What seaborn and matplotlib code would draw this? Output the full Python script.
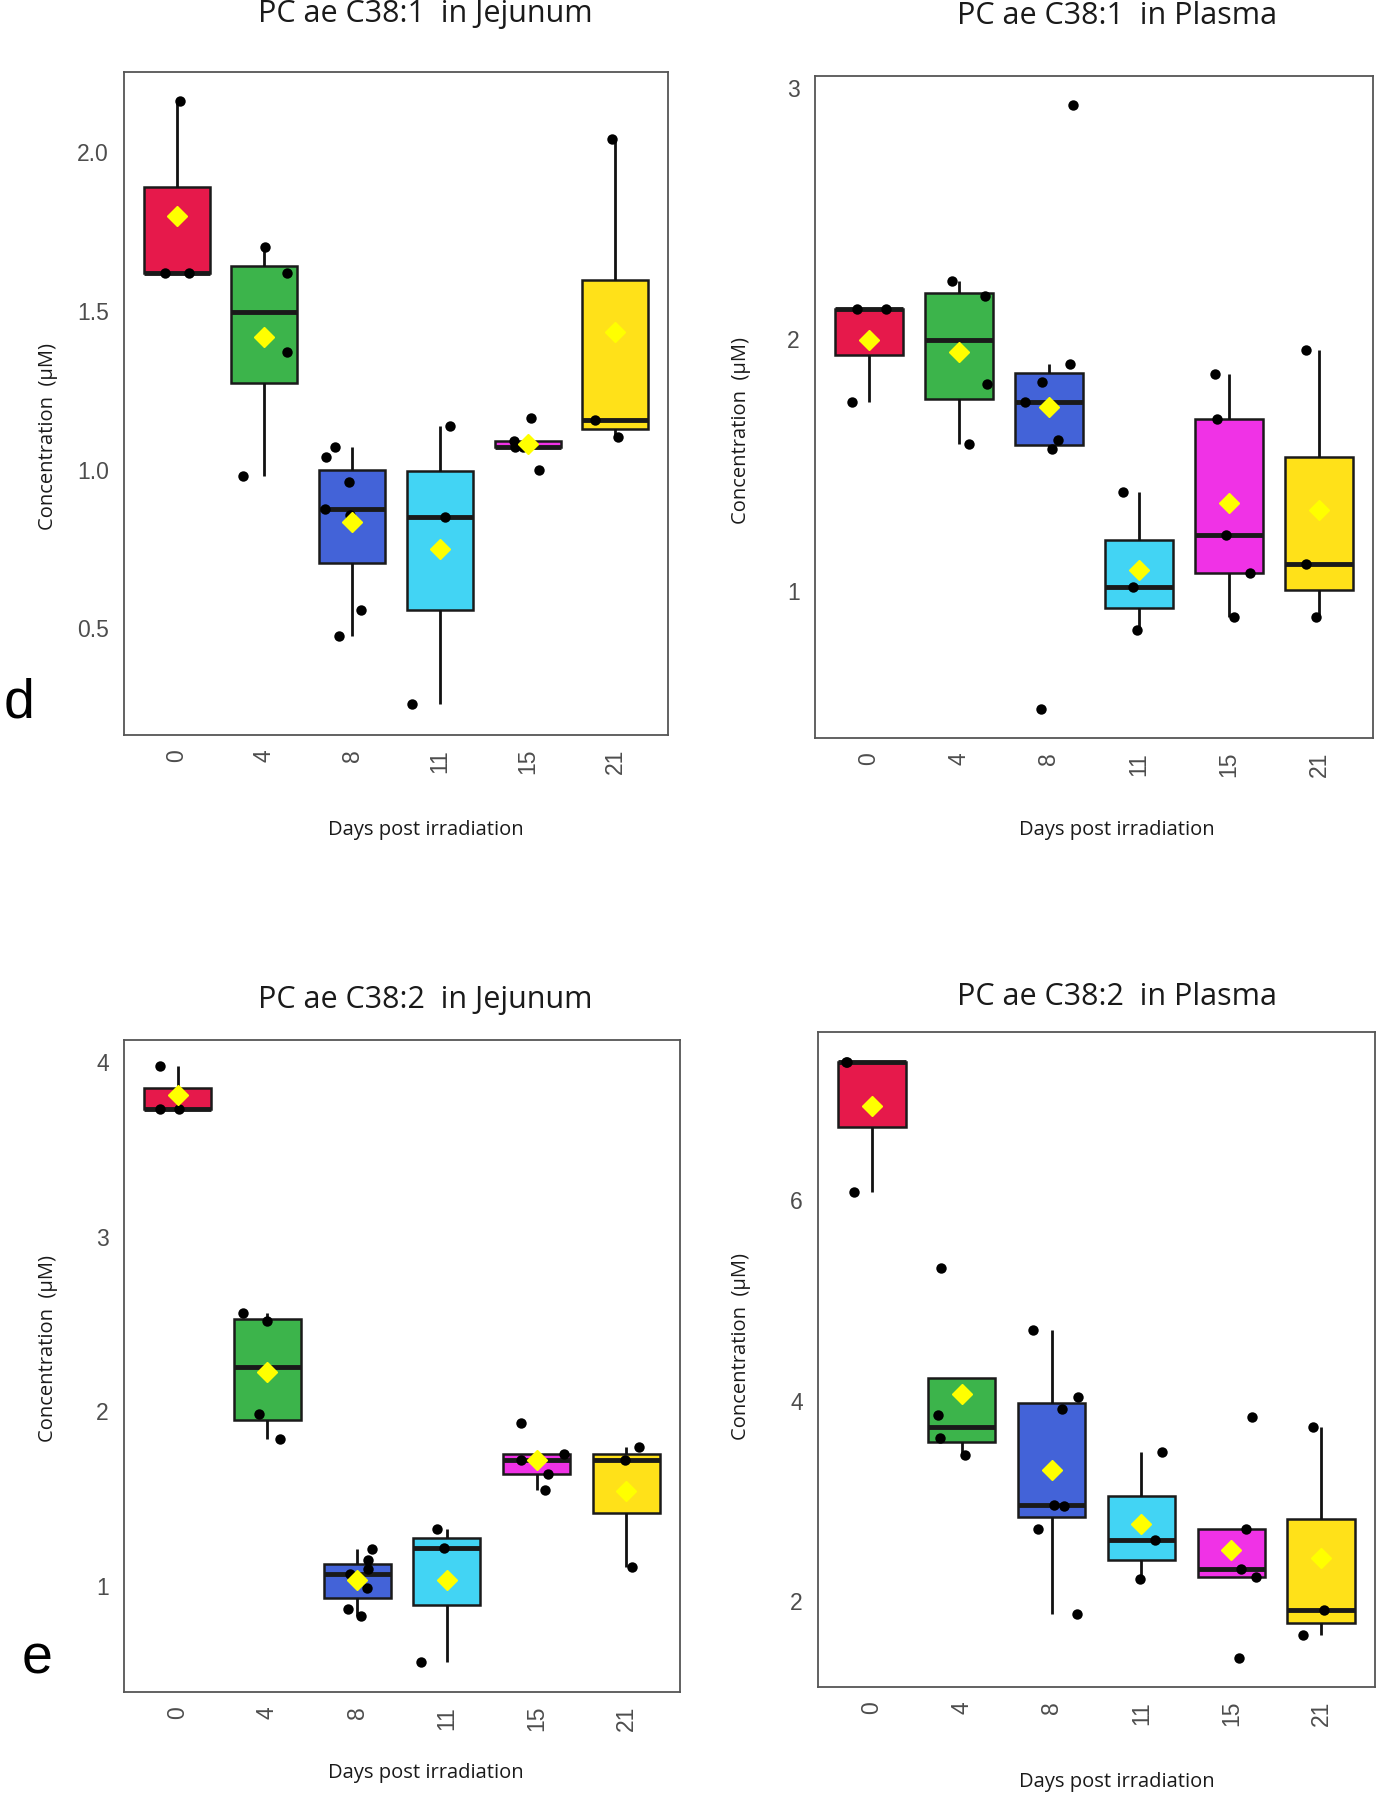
import numpy as np
import pandas as pd
import matplotlib
matplotlib.use("Agg")
import matplotlib.pyplot as plt
import seaborn as sns

# Days post irradiation (x categories) and group colours
days = ["0", "4", "8", "11", "15", "21"]
day_colors = ["#e6194B", "#3cb44b", "#4363d8", "#42d4f4", "#f032e6", "#ffe119"]

# PC ae C38:1 in Jejunum (uM), one list per day
jej_c381 = [
    [2.16, 1.62, 1.62],
    [1.70, 1.62, 1.37, 0.98],
    [1.07, 1.04, 0.96, 0.877, 0.857, 0.557, 0.477],
    [1.138, 0.852, 0.261],
    [1.162, 1.09, 1.072, 1.072, 1.00],
    [2.04, 1.155, 1.102],
]

# PC ae C38:1 in Plasma
pla_c381 = [
    [2.121, 2.121, 1.752],
    [2.231, 2.170, 1.821, 1.582],
    [2.931, 1.901, 1.830, 1.752, 1.599, 1.562, 0.530],
    [1.392, 1.015, 0.845],
    [1.862, 1.683, 1.222, 1.071, 0.897],
    [1.959, 1.108, 0.897],
]

# PC ae C38:2 in Jejunum
jej_c382 = [
    [3.975, 3.729, 3.729],
    [2.563, 2.517, 1.985, 1.840],
    [1.21, 1.15, 1.10, 1.07, 0.99, 0.87, 0.83],
    [1.325, 1.22, 0.563],
    [1.935, 1.757, 1.723, 1.640, 1.551],
    [1.794, 1.723, 1.108],
]

# PC ae C38:2 in Plasma
pla_c382 = [
    [7.379, 7.379, 6.085],
    [5.324, 3.854, 3.625, 3.459],
    [4.70, 4.035, 3.912, 2.959, 2.948, 2.719, 1.867],
    [3.486, 2.602, 2.213],
    [3.832, 2.714, 2.320, 2.240, 1.425],
    [3.731, 1.904, 1.654],
]

titles = ["PC ae C38:1  in Jejunum", "PC ae C38:1  in Plasma",
          "PC ae C38:2  in Jejunum", "PC ae C38:2  in Plasma"]
yticks = [[0.5, 1.0, 1.5, 2.0], [1, 2, 3], [1, 2, 3, 4], [2, 4, 6]]
ytick_labels = [["0.5", "1.0", "1.5", "2.0"], ["1", "2", "3"],
                ["1", "2", "3", "4"], ["2", "4", "6"]]

W, H = 1384, 1800
sns.set_style("white")
plt.rcParams["font.family"] = ["Liberation Sans", "DejaVu Sans"]


def to_frame(groups):
    rows = []
    for d, vals in zip(days, groups):
        for v in vals:
            rows.append({"day": d, "conc": v})
    return pd.DataFrame(rows)


def fx(px):
    return px / W


def fy(py):
    return 1 - py / H


# panel layout in pixels: axes box (left, top, right, bottom), title, labels
panels = [
    dict(data=jej_c381, box=(124, 72, 668, 735), ylim=(0.164, 2.252),
         title=(425, 14), xlab=(426, 830), ylab=(48, 436)),
    dict(data=pla_c381, box=(815, 76, 1373, 738), ylim=(0.414, 3.047),
         title=(1117, 16), xlab=(1117, 830), ylab=(741, 430)),
    dict(data=jej_c382, box=(124, 1040, 680, 1692), ylim=(0.393, 4.126),
         title=(425, 1000), xlab=(426, 1773), ylab=(48, 1348)),
    dict(data=pla_c382, box=(818, 1032, 1375, 1687), ylim=(1.137, 7.683),
         title=(1117, 997), xlab=(1117, 1782), ylab=(741, 1346)),
]

fig = plt.figure(figsize=(W / 100, H / 100), dpi=100)
np.random.seed(3)

for i, p in enumerate(panels):
    l, t, r, b = p["box"]
    ax = fig.add_axes([fx(l), fy(b), (r - l) / W, (b - t) / H])
    df = to_frame(p["data"])

    sns.boxplot(data=df, x="day", y="conc", hue="day", order=days, hue_order=days,
                palette=day_colors, saturation=1, legend=False, width=0.75,
                showfliers=False, showmeans=True, showcaps=False,
                linecolor="#1a1a1a", linewidth=1.8,
                medianprops=dict(linewidth=3.5, color="#1a1a1a"),
                whiskerprops=dict(linewidth=2, color="#111111"),
                meanprops=dict(marker="D", markerfacecolor="#ffff00",
                               markeredgecolor="#ffff00", markersize=10,
                               zorder=5),
                ax=ax)
    sns.stripplot(data=df, x="day", y="conc", order=days, color="black",
                  size=7.5, jitter=0.33, ax=ax, zorder=4)

    ax.set_xlim(-0.6, 5.6)
    ax.set_ylim(*p["ylim"])
    ax.set_yticks(yticks[i])
    ax.set_yticklabels(ytick_labels[i])
    ax.set_xlabel("")
    ax.set_ylabel("")
    ax.tick_params(axis="both", colors="#333333", labelcolor="#4d4d4d",
                   labelsize=16.5, length=5, width=1.6)
    ax.tick_params(axis="y", pad=6)
    ax.tick_params(axis="x", labelrotation=90, pad=5)
    for s in ax.spines.values():
        s.set_color("#555555")
        s.set_linewidth(1.3)

    tx, ty = p["title"]
    fig.text(fx(tx), fy(ty), titles[i], ha="center", va="center",
             fontsize=22, family="Open Sans", color="#1a1a1a")
    xx, xy = p["xlab"]
    fig.text(fx(xx), fy(xy), "Days post irradiation", ha="center",
             va="center", fontsize=14.5, family="Open Sans", color="#1a1a1a")
    yx, yy = p["ylab"]
    fig.text(fx(yx), fy(yy), "Concentration  (\u00b5M)", ha="center",
             va="center", rotation=90, fontsize=14.5, family="Open Sans",
             color="#1a1a1a")

# panel letters
fig.text(fx(19), fy(703), "d", ha="center", va="center", fontsize=40, color="black")
fig.text(fx(37), fy(1660), "e", ha="center", va="center", fontsize=40, color="black")

fig.savefig("out.png", dpi=100)
